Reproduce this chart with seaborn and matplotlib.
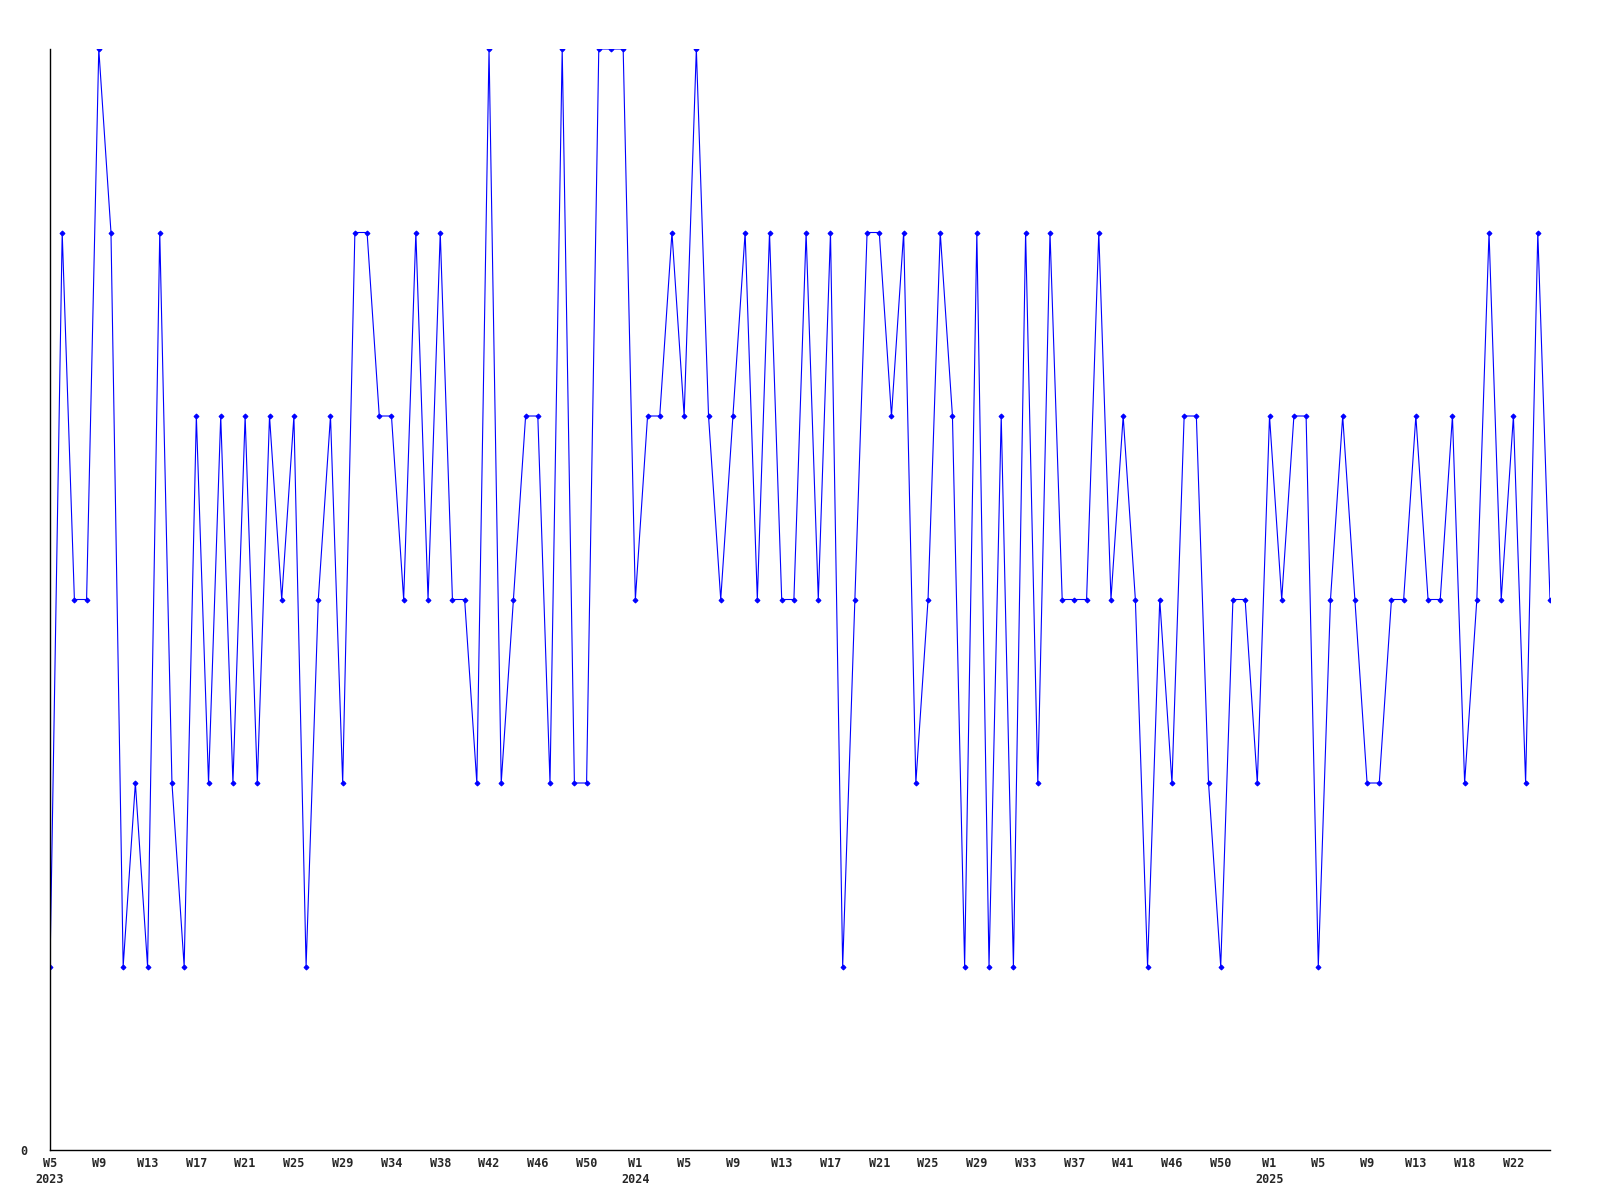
import matplotlib
matplotlib.use("Agg")
import matplotlib.pyplot as plt
import seaborn as sns
import pandas as pd

# Weekly values, 2023 W5 .. 2025 W24 (one point per week)
values = [
    1, 5, 3, 3, 6, 5, 1, 2, 1, 5, 2, 1, 4, 2, 4, 2, 4, 2, 4, 3,
    4, 1, 3, 4, 2, 5, 5, 4, 4, 3, 5, 3, 5, 3, 3, 2, 6, 2, 3, 4,
    4, 2, 6, 2, 2, 6, 6, 6, 3, 4, 4, 5, 4, 6, 4, 3, 4, 5, 3, 5,
    3, 3, 5, 3, 5, 1, 3, 5, 5, 4, 5, 2, 3, 5, 4, 1, 5, 1, 4, 1,
    5, 2, 5, 3, 3, 3, 5, 3, 4, 3, 1, 3, 2, 4, 4, 2, 1, 3, 3, 2,
    4, 3, 4, 4, 1, 3, 4, 3, 2, 2, 3, 3, 4, 3, 3, 4, 2, 3, 5, 3,
    4, 2, 5, 3,
]

# Labels shown on every 4th week
tick_labels = [
    "W5\n2023", "W9", "W13", "W17", "W21", "W25", "W29", "W34", "W38", "W42",
    "W46", "W50", "W1\n2024", "W5", "W9", "W13", "W17", "W21", "W25", "W29",
    "W33", "W37", "W41", "W46", "W50", "W1\n2025", "W5", "W9", "W13", "W18",
    "W22",
]
tick_step = 4

df = pd.DataFrame({"idx": range(len(values)), "value": values})

sns.set_theme(style="white")
plt.rcParams["font.family"] = ["DejaVu Sans Mono"]

fig = plt.figure(figsize=(16, 12), dpi=100)
ax = fig.add_axes([50 / 1600, 1 - 1150 / 1200, 1500 / 1600, 1101 / 1200])

sns.lineplot(data=df, x="idx", y="value", ax=ax, color="#0000ff",
             linewidth=0.8, marker="D", markersize=2.5,
             markeredgecolor="#0000ff", markerfacecolor="#0000ff")

ax.set_xlim(0, len(values) - 1)
ax.set_ylim(0, 6)
ax.set_xticks(list(range(0, len(tick_labels) * tick_step, tick_step)))
ax.set_xticklabels(tick_labels, fontsize=8.5, fontweight="bold",
                   linespacing=1.3, va="top")
ax.set_yticks([0])
ax.set_yticklabels(["0"], fontsize=8.5, fontweight="bold")
ax.tick_params(axis="x", length=0, pad=5)
ax.tick_params(axis="y", length=0, pad=16)
ax.set_xlabel("")
ax.set_ylabel("")

for side in ["top", "right"]:
    ax.spines[side].set_visible(False)
for side in ["left", "bottom"]:
    ax.spines[side].set_color("black")
    ax.spines[side].set_linewidth(1)

fig.savefig("out.png", dpi=100, facecolor="white")
